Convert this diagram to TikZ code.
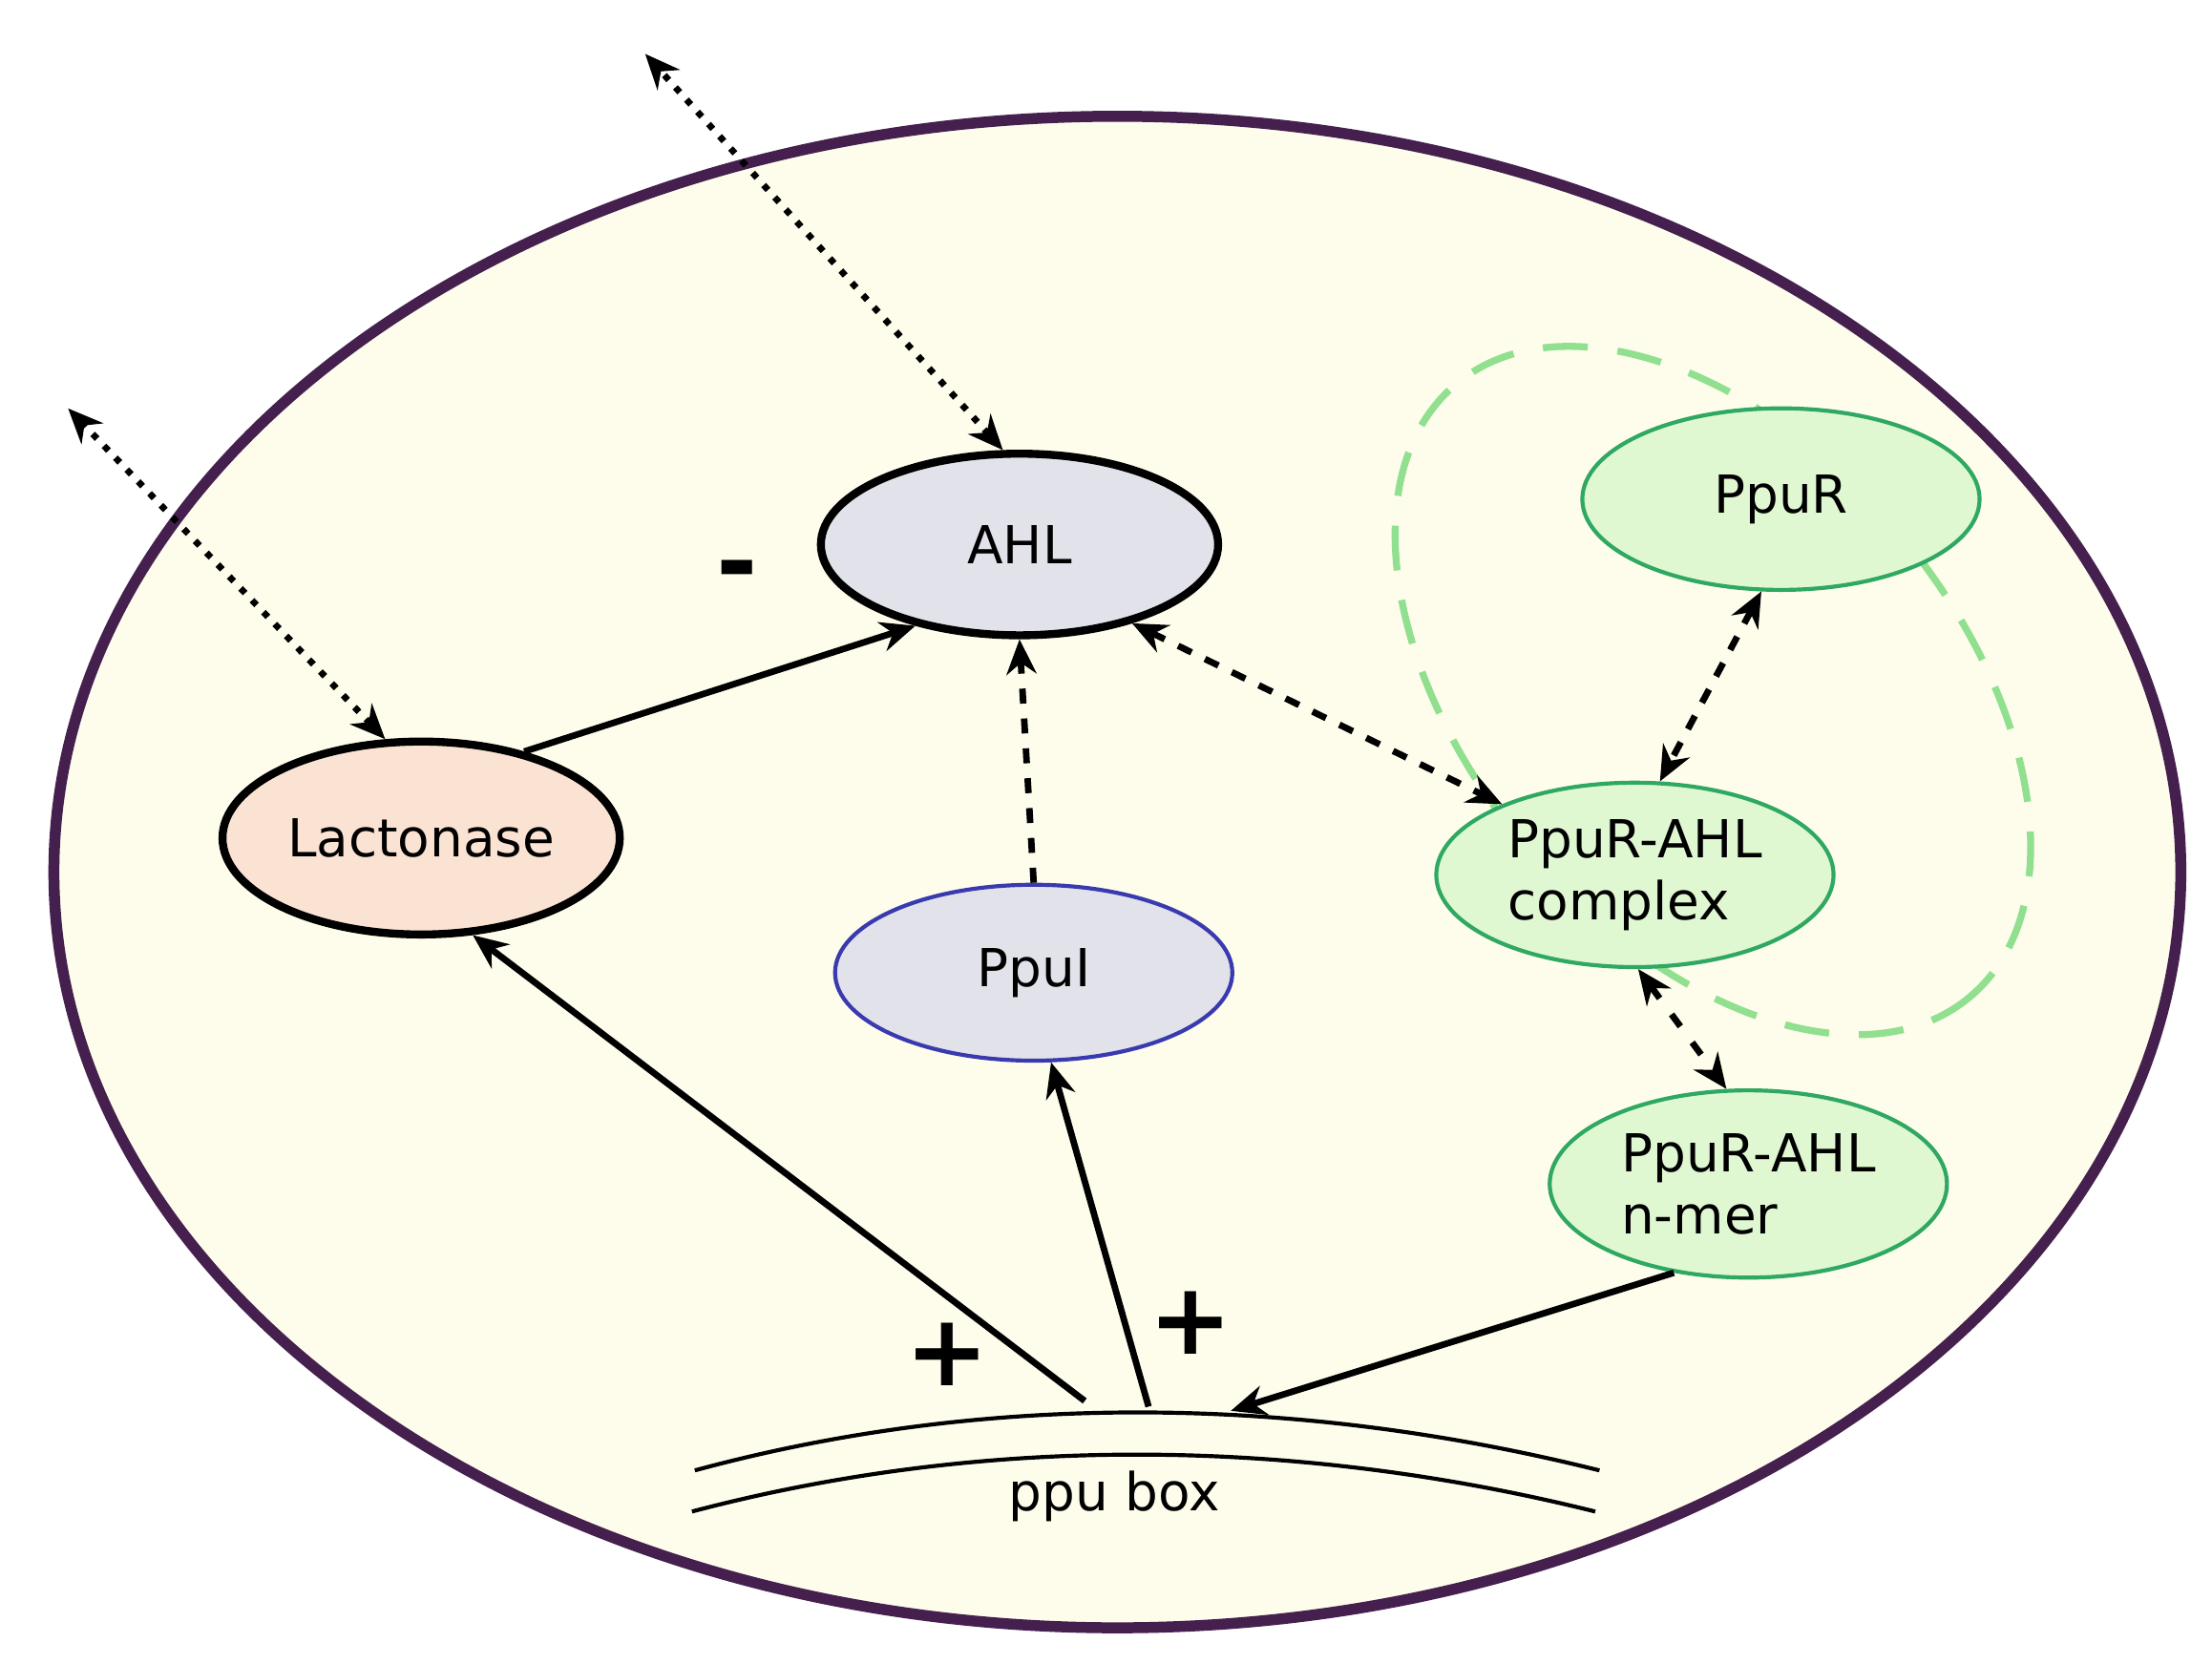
\documentclass[tikz,border=0pt]{standalone}
\usepackage{fontspec}
\setmainfont{DejaVu Sans}
\usetikzlibrary{shapes.geometric,arrows.meta}
\definecolor{cellfill}{HTML}{FEFDEB}
\definecolor{cellline}{HTML}{45204F}
\definecolor{greyfill}{HTML}{E2E2EA}
\definecolor{orangefill}{HTML}{FBE3D3}
\definecolor{greenfill}{HTML}{E0F8D2}
\definecolor{greenline}{HTML}{2EA862}
\definecolor{lightgreen}{HTML}{90E090}
\definecolor{blueline}{HTML}{3A3AB0}
\begin{document}
\begin{tikzpicture}[x=0.01cm,y=-0.01cm,
  every node/.style={font=\fontsize{10.5}{12.5}\selectfont},
  ell/.style={ellipse,minimum width=2.8cm,minimum height=1.28cm,inner sep=0pt,align=left},
  thickell/.style={ell,draw=black,line width=1.6pt},
  greenell/.style={ell,draw=greenline,fill=greenfill,line width=0.8pt},
  arr/.style={-{Stealth[length=7pt,width=6pt]},line width=1.3pt},
  darr/.style={{Stealth[length=7pt,width=6pt]}-{Stealth[length=7pt,width=6pt]},line width=1.3pt,dashed},
  dotarr/.style={{Stealth[length=7pt,width=6pt]}-{Stealth[length=7pt,width=6pt]},line width=1.3pt,dotted},
  sign/.style={font=\bfseries\fontsize{20}{22}\selectfont}]
\useasboundingbox (0,0) rectangle (1560,1173);
\fill[cellfill] (788,615) ellipse [x radius=750,y radius=533];
\draw[cellline,line width=2.2pt] (788,615) ellipse [x radius=750,y radius=533];
\draw[lightgreen,dashed,line width=1.4pt,dash pattern=on 9pt off 6pt] (1208,487) ellipse [x radius=282,y radius=172,rotate=-50];

\node[thickell,fill=greyfill] (ahl) at (719,384) {AHL};
\node[thickell,fill=orangefill,minimum height=1.36cm] (lac) at (297,591) {Lactonase};
\node[ell,draw=blueline,fill=greyfill,line width=0.8pt,minimum height=1.24cm] (ppui) at (729,686) {PpuI};
\node[greenell] (ppur) at (1256,352) {PpuR};
\node[greenell,minimum height=1.3cm] (cplx) at (1153,617) {PpuR-AHL\\complex};
\node[greenell,minimum height=1.32cm] (nmer) at (1233,835) {PpuR-AHL\\n-mer};

\draw[line width=0.8pt] (490,1037) .. controls (700,980) and (920,985) .. (1128,1037);
\draw[line width=0.8pt] (488,1066) .. controls (700,1010) and (920,1015) .. (1125,1066);
\node (box) at (786,1055) {ppu box};

\coordinate (b1) at (765,988);
\coordinate (b2) at (810,992);
\coordinate (b3) at (868,995);
\coordinate (o1) at (48,288);
\coordinate (o2) at (455,38);

\draw[arr] (lac.40) -- (ahl.218);
\node[sign] (minus) at (520,408) {-};
\draw[arr,dashed] (ppui.north) -- (ahl.south);
\draw[darr] (ahl.-35) -- (cplx.152);
\draw[darr] (ppur.-102) -- (cplx.75);
\draw[darr,dash pattern=on 3pt off 4pt] (cplx.-88) -- (nmer.103);
\draw[arr] (nmer.-130) -- (b3);
\draw[arr] (b1) -- (lac.-62);
\node[sign] (plus1) at (668,955) {+};
\draw[arr] (b2) -- (ppui.-79);
\node[sign] (plus2) at (840,933) {+};
\draw[dotarr] (lac.110) -- (o1);
\draw[dotarr] (ahl.100) -- (o2);
\end{tikzpicture}
\end{document}
